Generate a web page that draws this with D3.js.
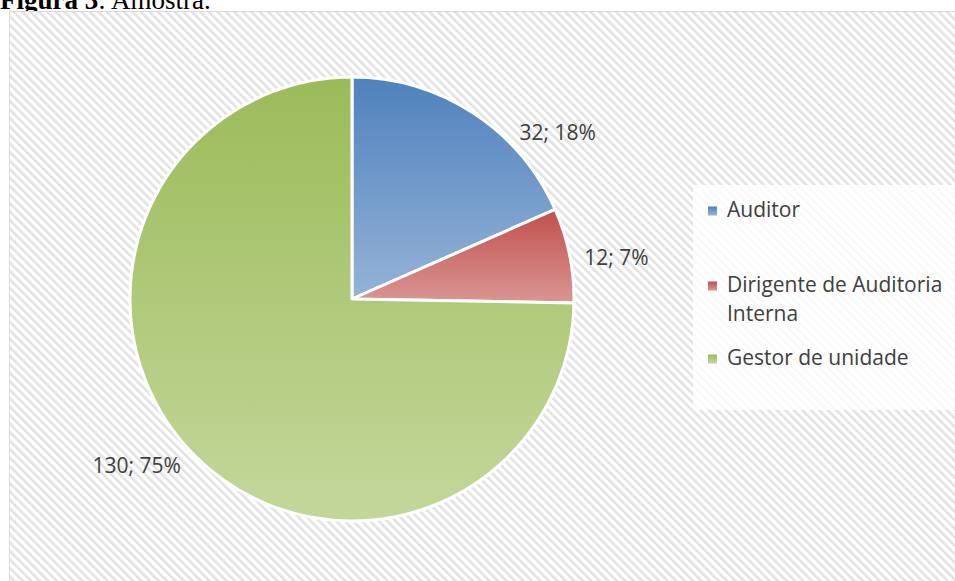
<!DOCTYPE html>
<html><head><meta charset="utf-8">
<script src="https://cdn.jsdelivr.net/npm/d3@7"></script>
<style>
html,body{margin:0;padding:0;background:#fff;overflow:hidden;}
svg{display:block;}
</style></head>
<body>
<svg id="c" width="955" height="581"></svg>
<script>
const categories = ["Auditor", "Dirigente de Auditoria Interna", "Gestor de unidade"];
const legendLines = [["Auditor"], ["Dirigente de Auditoria", "Interna"], ["Gestor de unidade"]];
const values = [32, 12, 130];
const percents = [18, 7, 75];
const topColors = ["#4F81BD", "#C0504D", "#9BBB59"];
const bottomColors = ["#95B3D7", "#DA9694", "#C4D79B"];

const svg = d3.select("#c");
const defs = svg.append("defs");

// stripe pattern
const pat = defs.append("pattern").attr("id","stripes").attr("patternUnits","userSpaceOnUse")
  .attr("width",6).attr("height",6).attr("patternTransform","rotate(-45)");
pat.append("rect").attr("width",6).attr("height",6).attr("fill","#fff");
pat.append("rect").attr("x",0).attr("width",2.6).attr("height",6).attr("fill","#e2e2e2");

// title
const title = svg.append("text").attr("x",0).attr("y",9)
  .style("font-family","'Liberation Serif', 'Times New Roman', serif").style("font-size","27px").attr("fill","#000");
title.append("tspan").attr("font-weight","bold").text("Figura 3");
title.append("tspan").text(": Amostra.");

// frame
svg.append("rect").attr("x",9.5).attr("y",11.5).attr("width",960).attr("height",580)
  .attr("fill","url(#stripes)").attr("stroke","#d9d9d9").attr("stroke-width",1);

// legend box
svg.append("rect").attr("x",693).attr("y",185).attr("width",270).attr("height",225)
  .attr("fill","#fff").attr("opacity",0.8);

// gradients
topColors.forEach((c,i)=>{
  const g = defs.append("linearGradient").attr("id","g"+i).attr("x1",0).attr("y1",0).attr("x2",0).attr("y2",1);
  g.append("stop").attr("offset","0%").attr("stop-color",c);
  g.append("stop").attr("offset","100%").attr("stop-color",bottomColors[i]);
});

const cx = 352, cy = 299, r = 222;
const pie = d3.pie().sort(null).value(d=>d)(values);
const arc = d3.arc().innerRadius(0).outerRadius(r);
const gPie = svg.append("g").attr("transform",`translate(${cx},${cy})`);
gPie.selectAll("path").data(pie).join("path")
  .attr("d",arc).attr("fill",(d,i)=>`url(#g${i})`)
  .attr("stroke","#fff").attr("stroke-width",3).attr("stroke-linejoin","round");

// labels
const labelFont = "'Open Sans', 'Noto Sans', sans-serif";
const nudges = [[38,34],[0,7],[-2,2]];
gPie.selectAll("text.lbl").data(pie).join("text").attr("class","lbl")
  .each(function(d,i){
    const a = (d.startAngle + d.endAngle)/2;
    const rr = r + 15;
    let x = Math.sin(a)*rr + nudges[i][0], y = -Math.cos(a)*rr + nudges[i][1];
    const anchor = Math.sin(a) >= 0 ? "start" : "end";
    d3.select(this).attr("x",x).attr("y",y).attr("text-anchor",anchor)
      .attr("dominant-baseline","middle");
  })
  .style("font-family",labelFont).style("font-size","21px").attr("fill","#404040")
  .text((d,i)=>`${values[i]}; ${percents[i]}%`);

// legend
const legY = [211, 286, 359];
const lg = svg.append("g");
categories.forEach((c,i)=>{
  lg.append("rect").attr("x",708).attr("y",legY[i]-4.5).attr("width",9).attr("height",9)
    .attr("fill",`url(#g${i})`);
  const t = lg.append("text").attr("x",727).attr("y",legY[i])
    .attr("dominant-baseline","middle")
    .style("font-family",labelFont).style("font-size","21px").attr("fill","#404040");
  legendLines[i].forEach((ln,j)=>{
    t.append("tspan").attr("x",727).attr("dy", j===0?0:29).text(ln);
  });
});
</script>
</body></html>
